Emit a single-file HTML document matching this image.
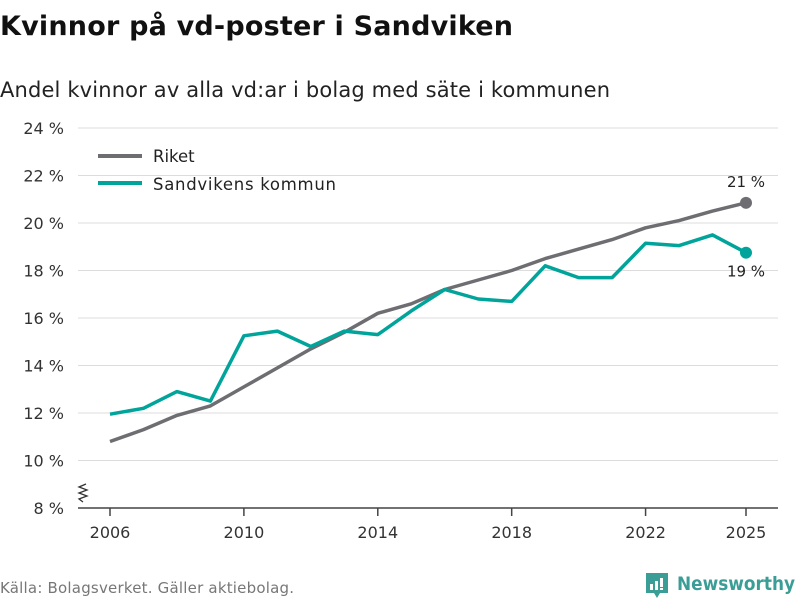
<!DOCTYPE html>
<html><head><meta charset="utf-8"><style>
body{margin:0;width:800px;height:600px;background:#fff;font-family:"DejaVu Sans","Liberation Sans",sans-serif;overflow:hidden}
svg text{font-family:"DejaVu Sans","Liberation Sans",sans-serif}
</style></head><body>
<svg width="800" height="600">
<text x="0" y="35" font-size="27" font-weight="bold" fill="#111" textLength="513">Kvinnor på vd-poster i Sandviken</text>
<text x="0" y="97" font-size="21" fill="#222" textLength="610">Andel kvinnor av alla vd:ar i bolag med säte i kommunen</text>
<g id="grid"></g><g id="axes"></g><g id="series"></g>
<g>
<line x1="98" y1="156" x2="142" y2="156" stroke="#6e6d72" stroke-width="4"/>
<text x="153" y="162" font-size="16.5" fill="#222">Riket</text>
<line x1="98" y1="183" x2="142" y2="183" stroke="#00a49a" stroke-width="4"/>
<text x="153" y="190" font-size="16.5" fill="#222" textLength="183">Sandvikens kommun</text>
</g>
<path d="M86 484 l-7 3 l8 3 l-8 3 l8 3 l-8 3 l4 3" fill="none" stroke="#333" stroke-width="1.3"/>
<text x="0" y="593" font-size="15" fill="#777" textLength="294">Källa: Bolagsverket. Gäller aktiebolag.</text>
<g>
<path d="M646 573 h22 v20 h-8 l-3 5 l-3 -5 h-8 z" fill="#3b9e96"/>
<rect x="650" y="584" width="3" height="6" fill="#fff"/><rect x="655" y="581" width="3" height="9" fill="#fff"/><rect x="660" y="578" width="3" height="9" fill="#fff"/><rect x="660" y="588" width="3" height="2" fill="#fff"/>
<text x="677" y="590" font-size="19" font-weight="bold" fill="#3b9e96" textLength="118" lengthAdjust="spacingAndGlyphs">Newsworthy</text>
</g>
</svg>
<script>
const years=[2006,2007,2008,2009,2010,2011,2012,2013,2014,2015,2016,2017,2018,2019,2020,2021,2022,2023,2024,2025];
const riket=[10.8,11.3,11.9,12.3,13.1,13.9,14.7,15.4,16.2,16.6,17.2,17.6,18.0,18.5,18.9,19.3,19.8,20.1,20.5,20.85];
const sandviken=[11.95,12.2,12.9,12.5,15.25,15.45,14.8,15.45,15.3,16.3,17.2,16.8,16.7,18.2,17.7,17.7,19.15,19.05,19.5,18.75];
const yTicks=[8,10,12,14,16,18,20,22,24];
const xTicks=[2006,2010,2014,2018,2022,2025];
const NS='http://www.w3.org/2000/svg';
const x=v=>110+(v-2006)*(746-110)/19;
const y=v=>508-(v-8)*(380/16);
function mk(tag,attrs,parent,txt){const e=document.createElementNS(NS,tag);for(const k in attrs)e.setAttribute(k,attrs[k]);if(txt!=null)e.textContent=txt;document.getElementById(parent).appendChild(e);return e;}
yTicks.forEach(t=>{
 if(t>8){const l=mk('line',{x1:78,x2:778,y1:y(t),y2:y(t),stroke:'#dcdcdc','stroke-width':1},'grid');
 
 }
 const tx=mk('text',{x:64,y:y(t)+6,'font-size':16,fill:'#333','text-anchor':'end'},'axes',t+' %');
 
 
});
const base=mk('line',{x1:78,x2:778,y1:508,y2:508,stroke:'#444','stroke-width':1.5},'axes');


xTicks.forEach(t=>{
 const l=mk('line',{x1:x(t),x2:x(t),y1:508,y2:516,stroke:'#444','stroke-width':1.5},'axes');
 
 
 const tx=mk('text',{x:x(t),y:538,'font-size':16,fill:'#333','text-anchor':'middle'},'axes',t);
 
 
});
function series(vals,color,name,labelDy){
 const d=vals.map((v,i)=>(i?'L':'M')+x(years[i]).toFixed(1)+' '+y(v).toFixed(1)).join(' ');
 const p=mk('path',{d:d,fill:'none',stroke:color,'stroke-width':3.5,'stroke-linejoin':'round'},'series');
 
 
 const last=vals.length-1;
 const c=mk('circle',{cx:x(years[last]),cy:y(vals[last]),r:6,fill:color},'series');
 
 
 const t=mk('text',{x:x(years[last]),y:y(vals[last])+labelDy,'font-size':15,fill:'#222','text-anchor':'middle'},'series',Math.round(vals[last])+' %');
 
 
}
series(riket,'#6e6d72','riket',-16);
series(sandviken,'#00a49a','sandviken',24);
</script>
</body></html>
